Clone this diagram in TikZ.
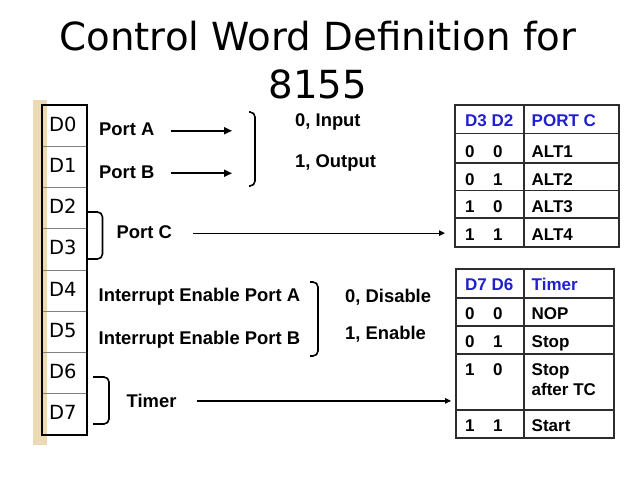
\documentclass[tikz,border=0pt]{standalone}
\usepackage{fontspec}
\setmainfont{DejaVu Sans}
\newfontfamily\labelfont{Liberation Sans}
\usetikzlibrary{arrows.meta}
\definecolor{tanstrip}{RGB}{236,218,180}
\definecolor{hdrblue}{RGB}{32,32,204}
\definecolor{tabgray}{RGB}{45,45,45}
\tikzset{
  lbl/.style={font=\labelfont\bfseries\fontsize{18.4}{21}\selectfont, anchor=base west, inner sep=0pt},
  cell/.style={font=\labelfont\bfseries\fontsize{17}{20}\selectfont, anchor=base west, inner sep=0pt},
  hdr/.style={cell, text=hdrblue},
  bitlbl/.style={font=\fontsize{19.5}{22}\selectfont, anchor=base west, inner sep=0pt},
  brk/.style={line width=1.6pt, rounded corners=5pt},
  arr/.style={-{Triangle[length=8pt,width=7pt]}, line width=1.8pt},
  longarr/.style={-{Triangle[length=6pt,width=5.5pt]}, line width=1.2pt},
  tabline/.style={line width=1.5pt, tabgray},
}
\begin{document}
\begin{tikzpicture}[x=1pt, y=-1pt]
    \useasboundingbox (0,0) rectangle (638,479);
    % title
    \node[font=\fontsize{38.7}{48}\selectfont, anchor=base] (title1) at (318,50) {Control Word Definition for};
    \node[font=\fontsize{38.7}{48}\selectfont, anchor=base] (title2) at (318,98) {8155};
    % control register
    \fill[tanstrip] (33,100) rectangle (47,445);
    \foreach \i in {1,...,7}
        \draw[gray, line width=0.7pt] (42,{105+41.25*\i}) -- (87,{105+41.25*\i});
    \draw[line width=1.3pt] (42,105) rectangle (87,435);
    \foreach \i in {0,...,7}
        \node[bitlbl] (d\i) at (49,{105+41.25*\i+26}) {D\i};
    % port A and B
    \coordinate (abend) at (232,0);
    \node[lbl] (porta) at (99,135.5) {Port A};
    \node[lbl] (portb) at (99,178) {Port B};
    \draw[arr] ([xshift=16pt,yshift=-1.5pt]porta.east) -- ([yshift=-1.5pt]porta.east -| abend);
    \draw[arr] ([xshift=16pt,yshift=-1.5pt]portb.east) -- ([yshift=-1.5pt]portb.east -| abend);
    \draw[brk] (249,112) -- (255,112) -- (255,186) -- (249,186);
    \node[lbl] (input) at (295,126.5) {0, Input};
    \node[lbl] (output) at (295,167.5) {1, Output};
    % port C
    \draw[brk] (87,212) -- (102.5,212) -- (102.5,259) -- (87,259);
    \node[lbl] (portc) at (116.5,238.5) {Port C};
    % interrupt enable
    \node[lbl] (iea) at (98.5,301) {Interrupt Enable Port A};
    \node[lbl] (ieb) at (98.5,344) {Interrupt Enable Port B};
    \draw[brk] (310,282) -- (318,282) -- (318,356) -- (310,356);
    \node[lbl] (disable) at (345,302.5) {0, Disable};
    \node[lbl] (enable) at (345,339.5) {1, Enable};
    % timer
    \draw[brk] (93,377) -- (109,377) -- (109,424) -- (93,424);
    \node[lbl] (timer) at (126.5,407) {Timer};
    % port C table
    \coordinate (taba) at (455,105);
    \draw[tabline] (455,105) rectangle (619,247);
    \draw[tabline] (524,105) -- (524,247);
    \foreach \y in {133.5,163,190.5,218}
        \draw[tabline] (455,\y) -- (619,\y);
    \node[hdr] (hbitsa) at (465,126) {D3 D2};
    \node[hdr] (hporta) at (531.5,126) {PORT C};
    \foreach \a/\b/\t/\y [count=\k] in {0/0/ALT1/157, 0/1/ALT2/185, 1/0/ALT3/212.5, 1/1/ALT4/240} {
        \node[cell] (ahi\k) at (465,\y) {\a};
        \node[cell] (alo\k) at (493,\y) {\b};
        \node[cell] (alt\k) at (531.5,\y) {\t};
    }
    % timer table
    \coordinate (tabb) at (456,269);
    \draw[tabline] (456,269) rectangle (614,438);
    \draw[tabline] (524,269) -- (524,438);
    \foreach \y in {298,326,354,410}
        \draw[tabline] (456,\y) -- (614,\y);
    \node[hdr] (hbitsb) at (465,290) {D7 D6};
    \node[hdr] (htimer) at (531.5,290) {Timer};
    \foreach \a/\b/\t/\y [count=\k] in {0/0/NOP/319.5, 0/1/Stop/347, 1/0/Stop/375.5, 1/1/Start/431} {
        \node[cell] (bhi\k) at (465,\y) {\a};
        \node[cell] (blo\k) at (493,\y) {\b};
        \node[cell] (mode\k) at (531.5,\y) {\t};
    }
    \node[cell] (aftertc) at (531.5,395) {after TC};
    % connectors to the tables
    \draw[longarr] ([xshift=21pt,yshift=-1pt]portc.east) -- ([xshift=-10pt,yshift=-1pt]portc.east -| taba);
    \draw[longarr] ([xshift=20pt,yshift=-0.5pt]timer.east) -- ([xshift=-5pt,yshift=-0.5pt]timer.east -| tabb);
\end{tikzpicture}
\end{document}
